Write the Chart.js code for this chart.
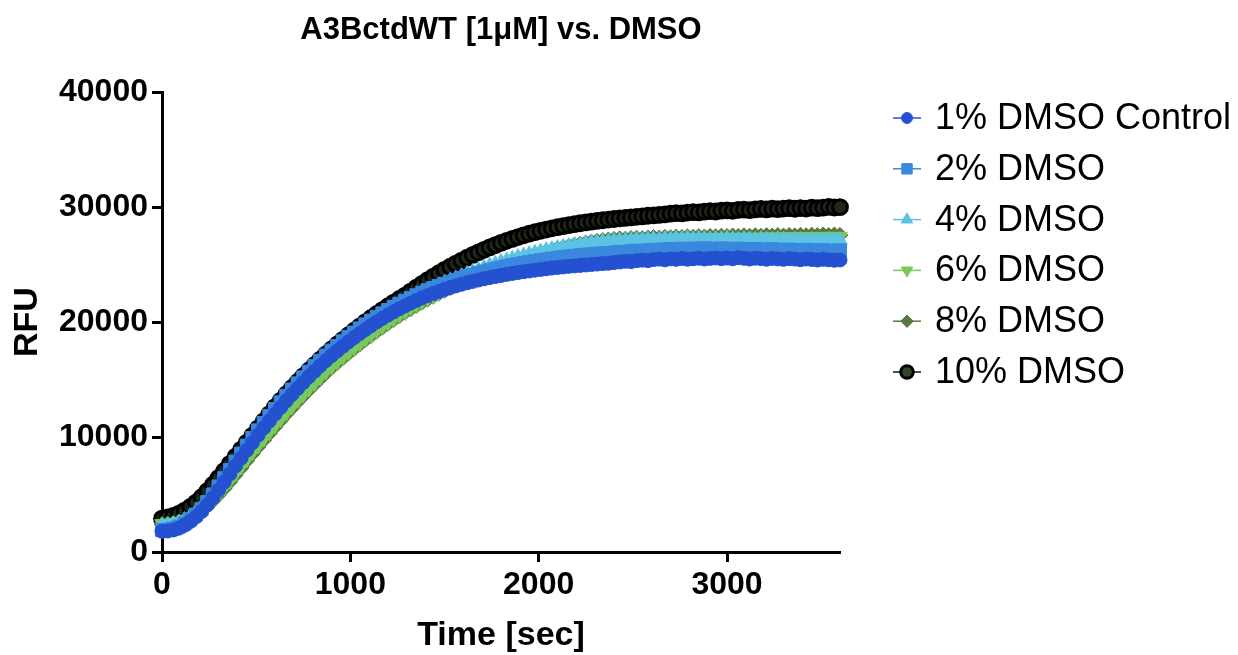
<!DOCTYPE html>
<html>
<head>
<meta charset="utf-8">
<script src="https://cdn.jsdelivr.net/npm/chart.js@4.4.1/dist/chart.umd.min.js"></script>
<style>
html,body{margin:0;padding:0;background:#fff;}
#wrap{width:1238px;height:655px;position:relative;}
</style>
</head>
<body>
<div id="wrap"><canvas id="c" width="1238" height="655"></canvas></div>
<script>
const chartTitle = 'A3BctdWT [1μM] vs. DMSO';
const xTitle = 'Time [sec]';
const yTitle = 'RFU';
const xTicks = [0, 1000, 2000, 3000];
const yTicks = [0, 10000, 20000, 30000, 40000];
const seriesLabels = ['1% DMSO Control', '2% DMSO', '4% DMSO', '6% DMSO', '8% DMSO', '10% DMSO'];

const timeSec = [
0,30,60,90,120,150,180,210,240,270,
300,330,360,390,420,450,480,510,540,570,
600,630,660,690,720,750,780,810,840,870,
900,930,960,990,1020,1050,1080,1110,1140,1170,
1200,1230,1260,1290,1320,1350,1380,1410,1440,1470,
1500,1530,1560,1590,1620,1650,1680,1710,1740,1770,
1800,1830,1860,1890,1920,1950,1980,2010,2040,2070,
2100,2130,2160,2190,2220,2250,2280,2310,2340,2370,
2400,2430,2460,2490,2520,2550,2580,2610,2640,2670,
2700,2730,2760,2790,2820,2850,2880,2910,2940,2970,
3000,3030,3060,3090,3120,3150,3180,3210,3240,3270,
3300,3330,3360,3390,3420,3450,3480,3510,3540,3570,
3600];

const dmso1 = [
1800,1830,1920,2080,2330,2650,3050,3520,4080,4700,
5380,6080,6780,7480,8170,8850,9510,10160,10790,11400,
12000,12580,13150,13700,14230,14750,15250,15730,16200,16650,
17080,17490,17890,18280,18650,19010,19360,19690,20010,20320,
20610,20890,21160,21410,21650,21880,22100,22300,22490,22670,
22840,23000,23150,23290,23420,23540,23660,23770,23870,23970,
24060,24150,24230,24310,24380,24450,24520,24580,24640,24700,
24750,24800,24850,24890,24930,24970,25010,25050,25090,25120,
25180,25230,25290,25260,25340,25390,25350,25440,25480,25420,
25500,25460,25530,25470,25510,25560,25490,25540,25580,25520,
25570,25510,25600,25550,25490,25560,25520,25470,25540,25500,
25460,25520,25480,25430,25490,25450,25400,25460,25420,25380,
25410];

const dmso2 = [
1900,1940,2040,2210,2480,2830,3260,3760,4350,5000,
5700,6420,7140,7860,8560,9250,9920,10580,11220,11840,
12440,13020,13590,14140,14670,15190,15690,16170,16640,17090,
17520,17930,18330,18720,19090,19450,19800,20130,20450,20760,
21050,21330,21600,21860,22100,22330,22560,22770,22970,23160,
23340,23510,23670,23830,23980,24120,24260,24390,24510,24630,
24740,24850,24950,25040,25130,25220,25300,25380,25450,25520,
25590,25650,25710,25760,25810,25860,25900,25940,25980,26010,
26050,26100,26080,26160,26200,26170,26250,26290,26240,26320,
26350,26300,26380,26340,26400,26360,26420,26380,26350,26410,
26370,26330,26390,26350,26300,26360,26320,26280,26340,26300,
26260,26310,26270,26230,26290,26250,26210,26260,26220,26190,
26240];

const dmso4 = [
2300,2340,2420,2560,2780,3080,3450,3900,4430,5020,
5660,6330,7010,7690,8370,9040,9700,10340,10970,11580,
12180,12760,13320,13870,14400,14910,15410,15890,16360,16810,
17250,17670,18080,18480,18870,19240,19600,19950,20290,20600,
20900,21200,21480,21760,22030,22290,22530,22760,22990,23200,
23400,23600,23800,24000,24190,24380,24560,24740,24910,25070,
25230,25380,25520,25660,25790,25910,26030,26140,26250,26350,
26440,26530,26610,26690,26760,26830,26890,26940,26990,27030,
27070,27110,27090,27140,27170,27130,27190,27220,27180,27240,
27210,27260,27230,27270,27220,27260,27240,27200,27250,27210,
27260,27220,27180,27240,27200,27160,27220,27180,27140,27200,
27160,27120,27180,27140,27100,27160,27120,27090,27140,27100,
27120];

const dmso6 = [
2450,2480,2540,2640,2800,3020,3300,3640,4050,4520,
5040,5600,6190,6800,7420,8040,8650,9250,9840,10420,
10990,11550,12100,12640,13170,13690,14200,14700,15190,15670,
16100,16530,16950,17360,17760,18150,18530,18900,19260,19610,
19950,20280,20600,20910,21210,21500,21780,22050,22310,22560,
22800,23040,23270,23500,23720,23930,24140,24340,24530,24720,
24900,25070,25240,25400,25550,25700,25840,25970,26100,26220,
26330,26440,26540,26630,26720,26800,26870,26940,27000,27050,
27090,27140,27120,27180,27200,27170,27230,27260,27220,27280,
27250,27300,27270,27320,27280,27330,27300,27340,27310,27350,
27320,27360,27330,27370,27340,27380,27350,27390,27360,27400,
27370,27410,27380,27420,27390,27430,27400,27440,27410,27450,
27420];

const dmso8 = [
2400,2440,2500,2600,2760,2970,3250,3590,3990,4450,
4960,5510,6090,6690,7310,7930,8540,9140,9730,10310,
10880,11440,11990,12530,13060,13580,14090,14590,15080,15560,
16020,16450,16870,17280,17680,18070,18450,18820,19180,19530,
19870,20200,20520,20830,21130,21420,21700,21970,22230,22490,
22740,22980,23220,23450,23680,23900,24110,24320,24520,24710,
24900,25080,25250,25420,25580,25730,25880,26020,26150,26280,
26400,26510,26620,26720,26810,26900,26980,27050,27110,27170,
27210,27260,27230,27290,27320,27280,27340,27370,27330,27390,
27360,27410,27380,27430,27400,27450,27420,27470,27440,27490,
27460,27510,27470,27520,27480,27530,27490,27540,27500,27550,
27510,27560,27520,27570,27530,27580,27540,27590,27550,27600,
27560];

const dmso10 = [
2900,3000,3140,3340,3600,3920,4300,4770,5290,5850,
6440,7050,7670,8290,8910,9520,10130,10760,11380,12000,
12600,13170,13730,14270,14790,15300,15790,16270,16740,17190,
17630,18050,18460,18860,19250,19630,20000,20360,20710,21050,
21380,21700,22010,22310,22650,22990,23320,23640,23950,24250,
24540,24820,25090,25350,25600,25840,26070,26290,26500,26700,
26890,27070,27240,27400,27550,27690,27820,27940,28050,28160,
28260,28350,28440,28520,28600,28670,28740,28800,28860,28920,
28970,29020,29070,29110,29160,29200,29250,29280,29330,29370,
29430,29480,29460,29530,29570,29540,29610,29650,29620,29700,
29720,29680,29760,29790,29740,29810,29850,29800,29870,29830,
29880,29910,29860,29920,29880,29950,29910,29960,30020,29970,
30000];

const seriesValues = [dmso1, dmso2, dmso4, dmso6, dmso8, dmso10];

// ---- styling (kept separate from data) ----
const FONT = '"Liberation Sans", Arial, Helvetica, sans-serif';
const styles = [
  {line:'#2451cf', fill:'#2451cf', border:'#2451cf', shape:'circle',   radius:7.0, rot:0,   bw:1,   lg:0.78, lgFill:'#2451cf'},
  {line:'#3a87de', fill:'#3a87de', border:'#3a87de', shape:'rect',     radius:9.2, rot:0,   bw:1,   lg:0.8,  lgFill:'#3a87de'},
  {line:'#5cc3e2', fill:'#5cc3e2', border:'#5cc3e2', shape:'triangle', radius:8.4, rot:0,   bw:1,   lg:0.8,  lgFill:'#5cc3e2'},
  {line:'#79c95b', fill:'#79c95b', border:'#79c95b', shape:'triangle', radius:8.4, rot:180, bw:1,   lg:0.8,  lgFill:'#79c95b'},
  {line:'#587a42', fill:'#587a42', border:'#587a42', shape:'rectRot',  radius:7.8, rot:0,   bw:1,   lg:0.8,  lgFill:'#587a42'},
  {line:'#111111', fill:'#1f2818', border:'#000000', shape:'circle',   radius:7.4, rot:0,   bw:3,   lg:0.85, lgFill:'#344429'}
];

Chart.defaults.font.family = FONT;
Chart.defaults.color = '#000';

const datasets = seriesLabels.map((lab, i) => {
  const s = styles[i];
  return {
    label: lab,
    data: timeSec.map((t, j) => ({x: t, y: seriesValues[i][j]})),
    borderColor: s.line,
    backgroundColor: s.fill,
    pointBackgroundColor: s.fill,
    pointBorderColor: s.border,
    pointBorderWidth: s.bw,
    pointStyle: s.shape,
    pointRotation: s.rot,
    pointRadius: s.radius,
    pointHoverRadius: s.radius,
    borderWidth: 1.5,
    tension: 0,
    fill: false,
    clip: false
  };
});

const legendPlugin = {
  id: 'sideLegend',
  afterDraw(chart) {
    const ctx = chart.ctx;
    const ca = chart.chartArea;
    const x0 = ca.right + 53;
    const y0 = 118;
    const step = 50.8;
    ctx.save();
    seriesLabels.forEach((lab, i) => {
      const s = styles[i];
      const y = y0 + i * step;
      ctx.strokeStyle = s.line;
      ctx.lineWidth = 1.5;
      ctx.beginPath();
      ctx.moveTo(x0, y);
      ctx.lineTo(x0 + 28, y);
      ctx.stroke();
      ctx.fillStyle = s.lgFill;
      ctx.strokeStyle = s.border;
      ctx.lineWidth = s.bw;
      const opts = {pointStyle: s.shape, rotation: s.rot, radius: s.radius * s.lg, borderWidth: s.bw};
      if (Chart.helpers && Chart.helpers.drawPoint) {
        Chart.helpers.drawPoint(ctx, opts, x0 + 14, y);
      } else {
        ctx.beginPath(); ctx.arc(x0 + 14, y, s.radius * s.lg, 0, Math.PI * 2); ctx.fill(); ctx.stroke();
      }
      ctx.fillStyle = '#000';
      ctx.font = '36px ' + FONT;
      ctx.textAlign = 'left';
      ctx.textBaseline = 'middle';
      ctx.fillText(lab, x0 + 42, y + 1);
    });
    ctx.restore();
  }
};

const plainNumber = v => String(v);

new Chart(document.getElementById('c'), {
  type: 'line',
  data: {datasets},
  plugins: [legendPlugin],
  options: {
    responsive: false,
    animation: false,
    devicePixelRatio: 1,
    events: [],
    layout: {padding: {left: 0, right: 398, top: 0, bottom: 0}},
    plugins: {
      legend: {display: false},
      tooltip: {enabled: false},
      title: {
        display: true,
        text: chartTitle,
        fullSize: false,
        color: '#000',
        font: {size: 31, weight: 'bold', family: FONT, lineHeight: 1.2},
        padding: {top: 12, bottom: 43}
      }
    },
    scales: {
      x: {
        type: 'linear',
        min: 0,
        max: 3600,
        afterFit(s) { s.height = 103; },
        afterBuildTicks(s) { s.ticks = xTicks.map(v => ({value: v})); },
        ticks: {color: '#000', font: {size: 32, weight: 'bold'}, padding: 4, maxRotation: 0, autoSkip: false, callback: plainNumber},
        grid: {drawOnChartArea: false, drawTicks: true, tickLength: 10, tickColor: '#000', tickWidth: 3},
        border: {display: true, color: '#000', width: 3},
        title: {display: true, text: xTitle, color: '#000', font: {size: 34, weight: 'bold', lineHeight: 1}, padding: {top: 0, bottom: 2}}
      },
      y: {
        min: 0,
        max: 40000,
        afterFit(s) { s.width = 162; },
        afterBuildTicks(s) { s.ticks = yTicks.map(v => ({value: v})); },
        ticks: {color: '#000', font: {size: 32, weight: 'bold'}, padding: 4, autoSkip: false, callback: plainNumber},
        grid: {drawOnChartArea: false, drawTicks: true, tickLength: 10, tickColor: '#000', tickWidth: 3},
        border: {display: true, color: '#000', width: 3},
        title: {display: true, text: yTitle, color: '#000', font: {size: 34, weight: 'bold', lineHeight: 1}, padding: {top: 11, bottom: 0}}
      }
    }
  }
});
</script>
</body>
</html>
